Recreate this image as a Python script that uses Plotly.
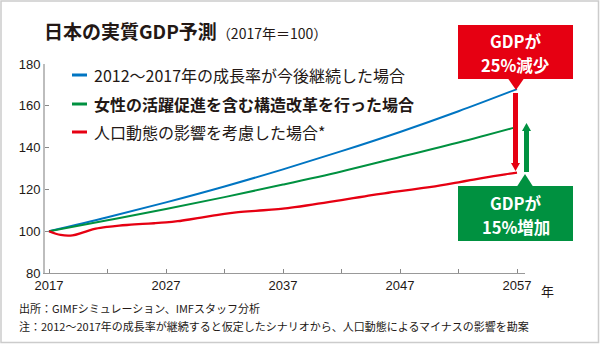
import plotly.graph_objects as go

# ---------------- data ----------------
years_5 = [2017, 2022, 2027, 2032, 2037, 2042, 2047, 2052, 2057]
blue_vals = [100, 106.7, 113.8, 121.4, 129.6, 138.3, 147.5, 157.4, 168.0]
green_vals = [100, 105.2, 110.6, 116.3, 122.3, 128.6, 135.5, 142.4, 149.9]

years_1 = list(range(2017, 2058))
red_vals = [100, 98.2, 98.0, 99.6, 101.2, 102.1, 102.7, 103.1, 103.5, 103.8,
            104.2, 104.8, 105.6, 106.5, 107.4, 108.3, 109.0, 109.5, 109.9, 110.3,
            110.8, 111.5, 112.3, 113.2, 114.0, 114.9, 115.8, 116.7, 117.6, 118.4,
            119.2, 119.9, 120.7, 121.5, 122.4, 123.4, 124.4, 125.4, 126.3, 127.2,
            128.0]

series_names = [
    "2012～2017年の成長率が今後継続した場合",
    "<b>女性の活躍促進を含む構造改革を行った場合</b>",
    "人口動態の影響を考慮した場合*",
]
x_tickvals = [2017, 2022, 2027, 2032, 2037, 2042, 2047, 2052, 2057]
x_ticktext = ["2017", "", "2027", "", "2037", "", "2047", "", "2057"]
y_tickvals = [80, 100, 120, 140, 160, 180]

title_main = "日本の実質GDP予測"
title_sub = "（2017年＝100）"
note1 = "出所：GIMFシミュレーション、IMFスタッフ分析"
note2 = "注：2012～2017年の成長率が継続すると仮定したシナリオから、人口動態によるマイナスの影響を勘案"
red_box_lines = ["GDPが", "25%減少"]
green_box_lines = ["GDPが", "15%増加"]

# ---------------- style ----------------
BLUE = "#0075c2"
GREEN = "#009140"
RED = "#e60012"
TXT = "#231815"
JP = "Noto Sans CJK JP"
NUM = "Liberation Sans Narrow, Liberation Sans, Arial"

W, H = 600, 345
ML, MR, MT, MB = 45, 75, 64, 72
PW, PH = W - ML - MR, H - MT - MB


def px(x):
    return (x - ML) / PW


def py(y):
    return (H - MB - y) / PH


fig = go.Figure()
fig.add_trace(go.Scatter(x=years_5, y=blue_vals, mode="lines",
                         line=dict(color=BLUE, width=2, shape="spline"), name=series_names[0]))
fig.add_trace(go.Scatter(x=years_5, y=green_vals, mode="lines",
                         line=dict(color=GREEN, width=2, shape="spline"), name=series_names[1]))
fig.add_trace(go.Scatter(x=years_1, y=red_vals, mode="lines",
                         line=dict(color=RED, width=2.3, shape="spline", smoothing=1.0), name=series_names[2]))

shapes = []
annotations = []

# border
shapes.append(dict(type="rect", xref="paper", yref="paper",
                   x0=px(1), x1=px(598.5), y0=py(1), y1=py(342.5),
                   line=dict(color="#cccccc", width=1.5), fillcolor="rgba(0,0,0,0)", layer="below"))

# legend (manual)
leg_y = [75, 104, 132]
for name, col, yy in zip(series_names, [BLUE, GREEN, RED], leg_y):
    shapes.append(dict(type="line", xref="paper", yref="paper",
                       x0=px(72), x1=px(87), y0=py(yy), y1=py(yy),
                       line=dict(color=col, width=3)))
    annotations.append(dict(xref="paper", yref="paper", x=px(92), y=py(yy),
                            xanchor="left", yanchor="middle", showarrow=False,
                            text=name, font=dict(family=JP, size=16, color=TXT)))

# title
annotations.append(dict(xref="paper", yref="paper", x=px(42), y=py(31),
                        xanchor="left", yanchor="middle", showarrow=False,
                        text=f"<b>{title_main}</b><span style='font-size:14px'>{title_sub}</span>",
                        font=dict(family=JP, size=19, color=TXT)))

# notes
annotations.append(dict(xref="paper", yref="paper", x=px(17), y=py(308),
                        xanchor="left", yanchor="middle", showarrow=False,
                        text=note1, font=dict(family=JP, size=11, color=TXT)))
annotations.append(dict(xref="paper", yref="paper", x=px(17), y=py(326),
                        xanchor="left", yanchor="middle", showarrow=False,
                        text=note2, font=dict(family=JP, size=11, color=TXT)))

# x axis unit
annotations.append(dict(xref="paper", yref="paper", x=px(547), y=py(290),
                        xanchor="center", yanchor="middle", showarrow=False,
                        text="年", font=dict(family=JP, size=13, color=TXT)))

# red callout box
shapes.append(dict(type="rect", xref="paper", yref="paper",
                   x0=px(458), x1=px(573), y0=py(25), y1=py(79),
                   line=dict(width=0), fillcolor=RED))
shapes.append(dict(type="path", xref="paper", yref="paper",
                   path=f"M {px(508)} {py(78.5)} L {px(524)} {py(78.5)} L {px(516)} {py(90)} Z",
                   line=dict(width=0), fillcolor=RED))
for t, yy in zip(red_box_lines, [41, 65]):
    annotations.append(dict(xref="paper", yref="paper", x=px(515.5), y=py(yy),
                            xanchor="center", yanchor="middle", showarrow=False,
                            text=f"<b>{t}</b>", font=dict(family=JP, size=16.5, color="white")))

# green callout box
shapes.append(dict(type="rect", xref="paper", yref="paper",
                   x0=px(458), x1=px(573), y0=py(186), y1=py(241),
                   line=dict(width=0), fillcolor=GREEN))
shapes.append(dict(type="path", xref="paper", yref="paper",
                   path=f"M {px(517)} {py(186.5)} L {px(533)} {py(186.5)} L {px(525)} {py(174)} Z",
                   line=dict(width=0), fillcolor=GREEN))
for t, yy in zip(green_box_lines, [202.5, 226.5]):
    annotations.append(dict(xref="paper", yref="paper", x=px(515.5), y=py(yy),
                            xanchor="center", yanchor="middle", showarrow=False,
                            text=f"<b>{t}</b>", font=dict(family=JP, size=16.5, color="white")))

# red arrow (down)
shapes.append(dict(type="line", xref="paper", yref="paper",
                   x0=px(515.5), x1=px(515.5), y0=py(93), y1=py(164),
                   line=dict(color=RED, width=5)))
shapes.append(dict(type="path", xref="paper", yref="paper",
                   path=f"M {px(511)} {py(163)} L {px(520)} {py(163)} L {px(515.5)} {py(171)} Z",
                   line=dict(width=0), fillcolor=RED))
# green arrow (up)
shapes.append(dict(type="line", xref="paper", yref="paper",
                   x0=px(526.5), x1=px(526.5), y0=py(172), y1=py(130),
                   line=dict(color=GREEN, width=5)))
shapes.append(dict(type="path", xref="paper", yref="paper",
                   path=f"M {px(522)} {py(131)} L {px(531)} {py(131)} L {px(526.5)} {py(123)} Z",
                   line=dict(width=0), fillcolor=GREEN))

x0 = 2017 - 4 / 11.7
x1 = 2017 + 476 / 11.7

fig.update_layout(
    width=W, height=H,
    margin=dict(l=ML, r=MR, t=MT, b=MB, pad=0),
    paper_bgcolor="white", plot_bgcolor="white",
    showlegend=False,
    shapes=shapes, annotations=annotations,
    xaxis=dict(range=[x0, x1], tickvals=x_tickvals, ticktext=x_ticktext,
               ticks="inside", ticklen=4, tickwidth=1, tickcolor="#888888",
               showline=True, linecolor="#999999", linewidth=1,
               showgrid=False, zeroline=False, fixedrange=True,
               tickfont=dict(family=NUM, size=13, color=TXT)),
    yaxis=dict(range=[80, 180], tickvals=y_tickvals,
               ticks="inside", ticklen=4, tickwidth=1, tickcolor="#888888",
               showline=True, linecolor="#bdbdbd", linewidth=2,
               showgrid=False, zeroline=False, fixedrange=True,
               tickfont=dict(family=NUM, size=13, color=TXT)),
)

fig.write_html("out.html")
